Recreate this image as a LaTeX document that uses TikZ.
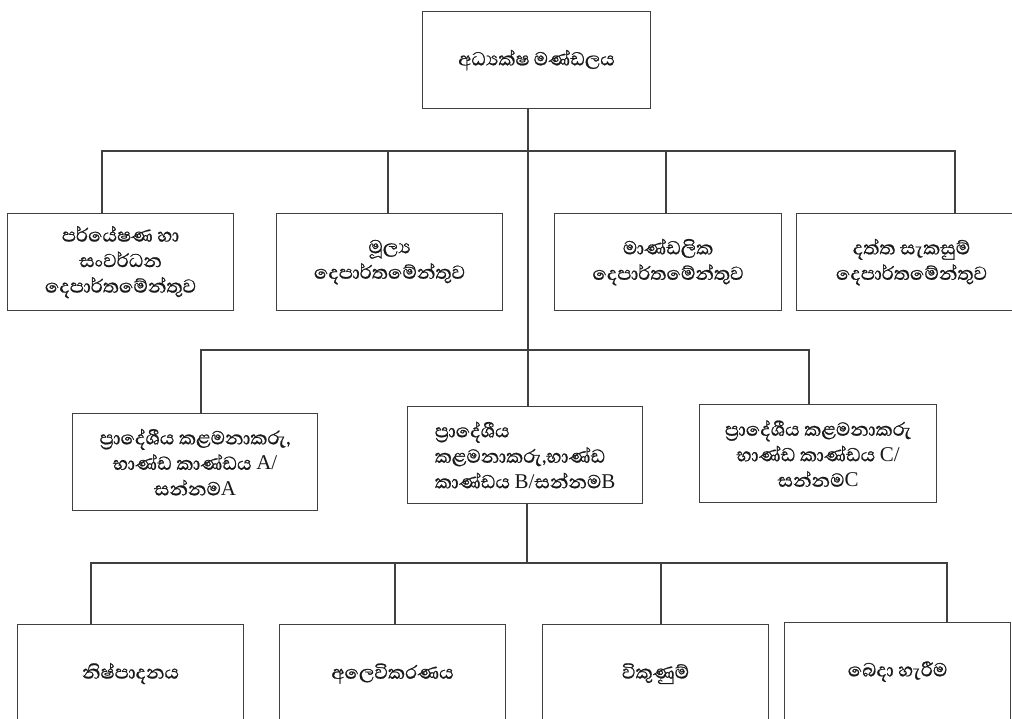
\documentclass[tikz,border=0pt]{standalone}
\usepackage{fontspec}
\newfontfamily\sinhfont[Script=Sinhala,FakeBold=0.8]{Abhaya Libre}
\newfontfamily\latfont{Liberation Serif}
\newcommand\latin[1]{{\latfont\fontsize{21}{25}\selectfont #1}}
\begin{document}
\begin{tikzpicture}[x=1pt,y=-1pt,
  line/.style={draw=black!75,line width=1.2pt},
  box/.style={draw=black!75,line width=1.2pt,rectangle,anchor=north west,inner sep=0pt,
    align=center,font=\sinhfont\fontsize{24}{25.5}\selectfont,text=black!90},
]
\useasboundingbox (0,0) rectangle (1012,718);
\clip (0,0) rectangle (1012,718);
% top
\node[box,minimum width=228pt,minimum height=97pt] (top) at (422,11) {අධ්‍යක්ෂ මණ්ඩලය};
% row 2
\node[box,minimum width=226pt,minimum height=97pt] (r1) at (7,213) {පර්යේෂණ හා\\සංවර්ධන\\දෙපාර්තමේන්තුව};
\node[box,minimum width=226pt,minimum height=97pt] (r2) at (276,213) {මූල්‍ය\\දෙපාර්තමේන්තුව};
\node[box,minimum width=227pt,minimum height=97pt] (r3) at (554,213) {මාණ්ඩලික\\දෙපාර්තමේන්තුව};
\node[box,minimum width=230pt,minimum height=97pt] (r4) at (796,213) {දත්ත සැකසුම්\\දෙපාර්තමේන්තුව};
% row 3
\node[box,minimum width=245pt,minimum height=97pt] (ra) at (72,413) {ප්‍රාදේශීය කළමනාකරු,\\භාණ්ඩ කාණ්ඩය \latin{A/}\\සන්නම\latin{A}};
\node[box,minimum width=235pt,minimum height=97pt,align=left] (rb) at (407,406) {ප්‍රාදේශීය\\කළමනාකරු,භාණ්ඩ\\කාණ්ඩය \latin{B/}සන්නම\latin{B}};
\node[box,minimum width=237pt,minimum height=98pt] (rc) at (699,404) {ප්‍රාදේශීය කළමනාකරු\\භාණ්ඩ කාණ්ඩය \latin{C/}\\සන්නම\latin{C}};
% row 4
\node[box,minimum width=226pt,minimum height=98pt] (b1) at (17,624) {නිෂ්පාදනය};
\node[box,minimum width=226pt,minimum height=98pt] (b2) at (279,624) {අලෙවිකරණය};
\node[box,minimum width=226pt,minimum height=98pt] (b3) at (542,624) {විකුණුම්};
\node[box,minimum width=226pt,minimum height=98pt] (b4) at (784,622) {බෙදා හැරීම};
% connectors level 1
\coordinate (m1) at (528,151);
\coordinate (d1) at (102,151);
\coordinate (d2) at (388,151);
\coordinate (d3) at (666,151);
\coordinate (d4) at (955,151);
\draw[line] (m1 |- top.south) -- (m1 |- rb.north);
\draw[line] (d1 |- r1.north) -- (d1) -- (d4) -- (d4 |- r4.north);
\draw[line] (d2) -- (d2 |- r2.north);
\draw[line] (d3) -- (d3 |- r3.north);
% level 2
\coordinate (e1) at (201,350);
\coordinate (e2) at (809,350);
\draw[line] (e1 |- ra.north) -- (e1) -- (e2) -- (e2 |- rc.north);
% level 3
\coordinate (f0) at (527,563);
\coordinate (f1) at (91,563);
\coordinate (f2) at (395,563);
\coordinate (f3) at (661,563);
\coordinate (f4) at (947,563);
\draw[line] (f0 |- rb.south) -- (f0);
\draw[line] (f1 |- b1.north) -- (f1) -- (f4) -- (f4 |- b4.north);
\draw[line] (f2) -- (f2 |- b2.north);
\draw[line] (f3) -- (f3 |- b3.north);
\end{tikzpicture}
\end{document}
